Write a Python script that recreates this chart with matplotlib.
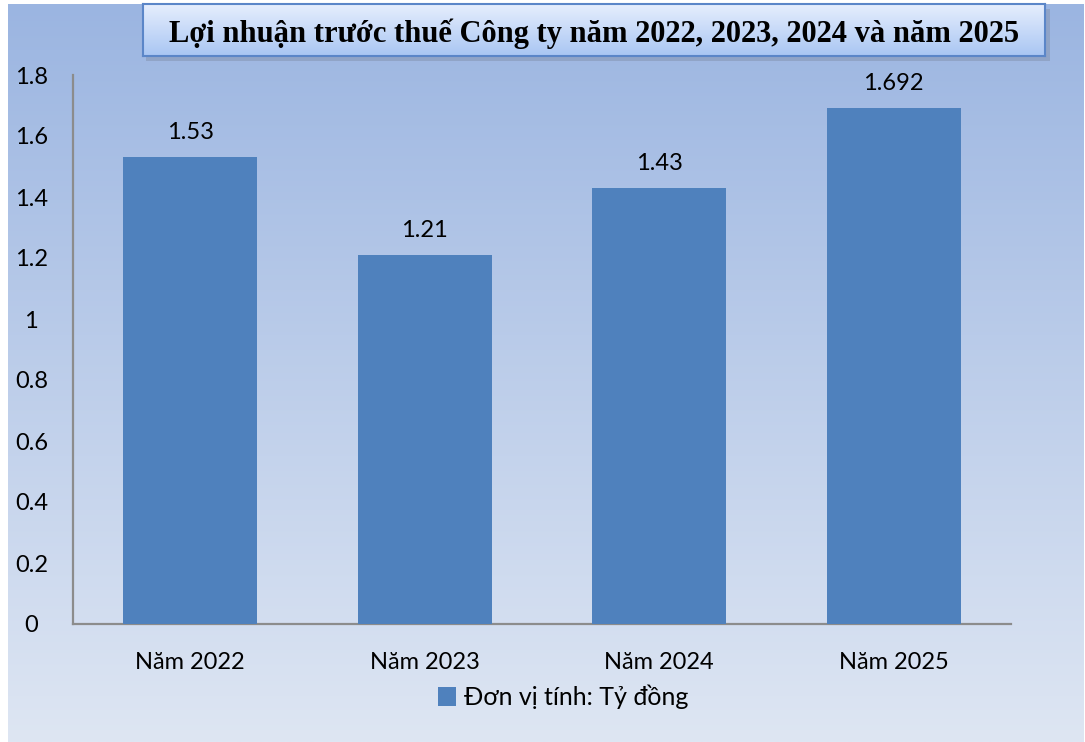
import numpy as np
import matplotlib
matplotlib.use("Agg")
import matplotlib.pyplot as plt
from matplotlib.patches import Rectangle

categories = ["Năm 2022", "Năm 2023", "Năm 2024", "Năm 2025"]
values = [1.53, 1.21, 1.43, 1.692]
value_labels = ["1.53", "1.21", "1.43", "1.692"]
yticks = [0, 0.2, 0.4, 0.6, 0.8, 1.0, 1.2, 1.4, 1.6, 1.8]
ytick_labels = ["0", "0.2", "0.4", "0.6", "0.8", "1", "1.2", "1.4", "1.6", "1.8"]
title = "Lợi nhuận trước thuế Công ty năm 2022, 2023, 2024 và năm 2025"
legend_label = "Đơn vị tính: Tỷ đồng"

W, H = 1085, 742
fig = plt.figure(figsize=(W / 100, H / 100), dpi=100)
fig.patch.set_facecolor("white")

sans = ["Lato", "Open Sans", "DejaVu Sans"]

# background gradient
bg = fig.add_axes([8 / W, 0, (W - 9) / W, (H - 4) / H], zorder=0)
top = np.array([0x9b, 0xb5, 0xe1]) / 255
bot = np.array([0xde, 0xe6, 0xf3]) / 255
t = np.linspace(0, 1, 256)[:, None]
grad = top[None, :] * (1 - t) + bot[None, :] * t
bg.imshow(grad[:, None, :].repeat(2, axis=1), aspect="auto", extent=[0, 1, 0, 1])
bg.set_axis_off()

# main axes
left, right, ytop, y0 = 73, 1011, 75, 624
ax = fig.add_axes([left / W, (H - y0) / H, (right - left) / W, (y0 - ytop) / H], zorder=2)
ax.patch.set_alpha(0)
x = np.arange(len(categories))
bars = ax.bar(x, values, width=0.57, color="#4f81bd", label=legend_label, zorder=3)
ax.set_xlim(-0.5, len(categories) - 0.5)
ax.set_ylim(0, 1.8)
ax.set_yticks(yticks)
ax.set_yticklabels(ytick_labels, fontsize=17, family=sans)
ax.set_xticks(x)
ax.set_xticklabels(categories, fontsize=17, family=sans)
ax.tick_params(length=0)
ax.tick_params(axis="y", pad=30)
ax.tick_params(axis="x", pad=20)
for lab in ax.get_yticklabels():
    lab.set_horizontalalignment("center")
for s in ["top", "right"]:
    ax.spines[s].set_visible(False)
for s in ["left", "bottom"]:
    ax.spines[s].set_color("#8c8c8c")
    ax.spines[s].set_linewidth(1.6)

for xi, v, lab in zip(x, values, value_labels):
    ax.annotate(lab, (xi, v), xytext=(0, 10), textcoords="offset points",
                ha="center", va="bottom", fontsize=17, family=sans)

leg = fig.legend(handles=[bars], labels=[legend_label], loc="center",
                 bbox_to_anchor=(563 / W, 1 - 697 / H), frameon=False,
                 prop={"family": sans, "size": 18}, handlelength=0.75,
                 handleheight=0.75, handletextpad=0.3)

# title box with shadow and gradient
bx0, bx1, by0, by1 = 143, 1045, 4, 56
shadow = Rectangle((bx0 + 3, H - by1 - 5), (bx1 - bx0) + 2, (by1 - by0),
                   transform=None, facecolor="#8a9cbc", edgecolor="none", alpha=0.7, zorder=3)
fig.patches.append(shadow)
tax = fig.add_axes([bx0 / W, (H - by1) / H, (bx1 - bx0) / W, (by1 - by0) / H], zorder=4)
ttop = np.array([0xe6, 0xee, 0xfd]) / 255
tbot = np.array([0xa9, 0xc6, 0xf3]) / 255
tt = np.linspace(0, 1, 64)[:, None]
tgrad = ttop[None, :] * (1 - tt) + tbot[None, :] * tt
tax.imshow(tgrad[:, None, :].repeat(2, axis=1), aspect="auto", extent=[0, 1, 0, 1])
tax.set_xticks([]); tax.set_yticks([])
for s in tax.spines.values():
    s.set_color("#5b86c8"); s.set_linewidth(1.5)
tax.text(0.5, 0.42, title, ha="center", va="center", fontsize=22, fontweight="bold",
         family=["Liberation Serif", "DejaVu Serif"], transform=tax.transAxes)

fig.savefig("out.png", dpi=100)
